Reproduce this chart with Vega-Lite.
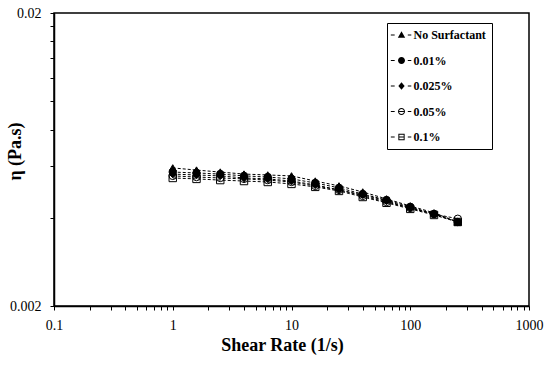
{
  "$schema": "https://vega.github.io/schema/vega-lite/v6.json",
  "width": 475,
  "height": 293,
  "autosize": {"type": "none"},
  "padding": {"left": 54, "top": 13, "right": 21, "bottom": 59},
  "background": "white",
  "config": {
    "font": "Liberation Serif",
    "view": {"stroke": "black", "strokeWidth": 1.5},
    "axis": {
      "grid": false,
      "domainColor": "black",
      "domainWidth": 1.5,
      "tickColor": "black",
      "tickWidth": 1,
      "tickSize": 4,
      "labelFont": "Liberation Serif",
      "labelFontSize": 14,
      "labelColor": "black",
      "labelOverlap": false,
      "labelFlush": false,
      "titleFont": "Liberation Serif",
      "titleFontSize": 18,
      "titleFontWeight": "bold",
      "titleColor": "black"
    }
  },
  "data": {
    "values": [
      {"rate": 1, "eta": 0.00592, "series": "No Surfactant"},
      {"rate": 1.585, "eta": 0.00582, "series": "No Surfactant"},
      {"rate": 2.512, "eta": 0.00573, "series": "No Surfactant"},
      {"rate": 3.981, "eta": 0.00564, "series": "No Surfactant"},
      {"rate": 6.31, "eta": 0.0056, "series": "No Surfactant"},
      {"rate": 10, "eta": 0.00556, "series": "No Surfactant"},
      {"rate": 15.85, "eta": 0.00534, "series": "No Surfactant"},
      {"rate": 25.12, "eta": 0.00514, "series": "No Surfactant"},
      {"rate": 39.81, "eta": 0.0049, "series": "No Surfactant"},
      {"rate": 63.1, "eta": 0.00464, "series": "No Surfactant"},
      {"rate": 100, "eta": 0.00439, "series": "No Surfactant"},
      {"rate": 158.5, "eta": 0.00416, "series": "No Surfactant"},
      {"rate": 251.2, "eta": 0.00387, "series": "No Surfactant"},
      {"rate": 1, "eta": 0.00573, "series": "0.01%"},
      {"rate": 1.585, "eta": 0.00569, "series": "0.01%"},
      {"rate": 2.512, "eta": 0.00564, "series": "0.01%"},
      {"rate": 3.981, "eta": 0.00556, "series": "0.01%"},
      {"rate": 6.31, "eta": 0.00551, "series": "0.01%"},
      {"rate": 10, "eta": 0.00543, "series": "0.01%"},
      {"rate": 15.85, "eta": 0.00526, "series": "0.01%"},
      {"rate": 25.12, "eta": 0.00506, "series": "0.01%"},
      {"rate": 39.81, "eta": 0.00482, "series": "0.01%"},
      {"rate": 63.1, "eta": 0.0046, "series": "0.01%"},
      {"rate": 100, "eta": 0.00436, "series": "0.01%"},
      {"rate": 158.5, "eta": 0.00412, "series": "0.01%"},
      {"rate": 251.2, "eta": 0.00387, "series": "0.01%"},
      {"rate": 1, "eta": 0.00564, "series": "0.025%"},
      {"rate": 1.585, "eta": 0.0056, "series": "0.025%"},
      {"rate": 2.512, "eta": 0.00556, "series": "0.025%"},
      {"rate": 3.981, "eta": 0.00547, "series": "0.025%"},
      {"rate": 6.31, "eta": 0.00543, "series": "0.025%"},
      {"rate": 10, "eta": 0.00534, "series": "0.025%"},
      {"rate": 15.85, "eta": 0.00518, "series": "0.025%"},
      {"rate": 25.12, "eta": 0.00498, "series": "0.025%"},
      {"rate": 39.81, "eta": 0.00479, "series": "0.025%"},
      {"rate": 63.1, "eta": 0.00457, "series": "0.025%"},
      {"rate": 100, "eta": 0.00432, "series": "0.025%"},
      {"rate": 158.5, "eta": 0.00412, "series": "0.025%"},
      {"rate": 251.2, "eta": 0.00387, "series": "0.025%"},
      {"rate": 1, "eta": 0.00556, "series": "0.05%"},
      {"rate": 1.585, "eta": 0.00551, "series": "0.05%"},
      {"rate": 2.512, "eta": 0.00547, "series": "0.05%"},
      {"rate": 3.981, "eta": 0.00543, "series": "0.05%"},
      {"rate": 6.31, "eta": 0.00538, "series": "0.05%"},
      {"rate": 10, "eta": 0.0053, "series": "0.05%"},
      {"rate": 15.85, "eta": 0.00514, "series": "0.05%"},
      {"rate": 25.12, "eta": 0.00498, "series": "0.05%"},
      {"rate": 39.81, "eta": 0.00475, "series": "0.05%"},
      {"rate": 63.1, "eta": 0.00453, "series": "0.05%"},
      {"rate": 100, "eta": 0.00432, "series": "0.05%"},
      {"rate": 158.5, "eta": 0.00412, "series": "0.05%"},
      {"rate": 251.2, "eta": 0.00397, "series": "0.05%"},
      {"rate": 1, "eta": 0.00547, "series": "0.1%"},
      {"rate": 1.585, "eta": 0.00543, "series": "0.1%"},
      {"rate": 2.512, "eta": 0.00538, "series": "0.1%"},
      {"rate": 3.981, "eta": 0.00534, "series": "0.1%"},
      {"rate": 6.31, "eta": 0.0053, "series": "0.1%"},
      {"rate": 10, "eta": 0.00522, "series": "0.1%"},
      {"rate": 15.85, "eta": 0.0051, "series": "0.1%"},
      {"rate": 25.12, "eta": 0.00494, "series": "0.1%"},
      {"rate": 39.81, "eta": 0.00471, "series": "0.1%"},
      {"rate": 63.1, "eta": 0.0045, "series": "0.1%"},
      {"rate": 100, "eta": 0.00429, "series": "0.1%"},
      {"rate": 158.5, "eta": 0.00409, "series": "0.1%"},
      {"rate": 251.2, "eta": 0.00387, "series": "0.1%"}
    ]
  },
  "encoding": {
    "x": {
      "field": "rate",
      "type": "quantitative",
      "scale": {"type": "log", "domain": [0.1, 1000], "nice": false},
      "axis": {
        "title": "Shear Rate (1/s)",
        "values": [0.1, 0.2, 0.3, 0.4, 0.5, 0.6, 0.7, 0.8, 0.9, 1, 2, 3, 4, 5, 6, 7, 8, 9, 10, 20, 30, 40, 50, 60, 70, 80, 90, 100, 200, 300, 400, 500, 600, 700, 800, 900, 1000],
        "format": "~g",
        "labelExpr": "indexof(['0.1','1','10','100','1000'], datum.label) >= 0 ? datum.label : ''",
        "labelPadding": 8,
        "titleX": 228,
        "titleY": 39,
        "titleAlign": "center",
        "titleBaseline": "middle"
      }
    },
    "y": {
      "field": "eta",
      "type": "quantitative",
      "scale": {"type": "log", "domain": [0.002, 0.02], "nice": false},
      "axis": {
        "title": "η (Pa.s)",
        "values": [0.002, 0.004, 0.006, 0.008, 0.01, 0.012, 0.014, 0.016, 0.018, 0.02],
        "format": "~g",
        "labelExpr": "datum.label == '0.002' || datum.label == '0.02' ? datum.label : ''",
        "labelPadding": 9,
        "titleX": -39,
        "titleY": 138,
        "titleAngle": 270,
        "titleAlign": "center",
        "titleBaseline": "middle"
      }
    }
  },
  "layer": [
    {
      "mark": {"type": "line", "color": "black", "strokeWidth": 1, "strokeDash": [3, 2]},
      "encoding": {"detail": {"field": "series"}}
    },
    {
      "mark": {"type": "point", "filled": true, "stroke": "black", "strokeWidth": 1, "opacity": 1, "size": 55},
      "encoding": {
        "shape": {
          "field": "series",
          "scale": {
            "domain": ["No Surfactant", "0.01%", "0.025%", "0.05%", "0.1%"],
            "range": ["triangle-up", "circle", "diamond", "circle", "square"]
          },
          "legend": null
        },
        "fill": {
          "field": "series",
          "scale": {
            "domain": ["No Surfactant", "0.01%", "0.025%", "0.05%", "0.1%"],
            "range": ["black", "black", "black", "transparent", "transparent"]
          },
          "legend": null
        }
      }
    },
    {
      "transform": [{"filter": "datum.rate < 0"}],
      "mark": {"type": "point", "filled": true, "color": "black", "opacity": 1, "size": 49},
      "encoding": {
        "shape": {
          "field": "series",
          "scale": {
            "domain": ["No Surfactant", "0.01%", "0.025%", "0.05%", "0.1%"],
            "range": [
              "M-3.05,-0.15H-1.95V0.15H-3.05Z M1.8,-0.15H2.8V0.15H1.8Z M0,-1.1L1.05,0.75L-1.05,0.75Z",
              "M-3.05,-0.15H-1.95V0.15H-3.05Z M1.8,-0.15H2.8V0.15H1.8Z M-1,0A1,1,0,1,1,1,0A1,1,0,1,1,-1,0Z",
              "M-3.05,-0.15H-1.95V0.15H-3.05Z M1.8,-0.15H2.8V0.15H1.8Z M0,-1.05L0.9,0L0,1.05L-0.9,0Z",
              "M-3.05,-0.15H-1.95V0.15H-3.05Z M1.8,-0.15H2.8V0.15H1.8Z M-1,0A1,1,0,1,1,1,0A1,1,0,1,1,-1,0Z M-0.72,0A0.72,0.72,0,1,0,0.72,0A0.72,0.72,0,1,0,-0.72,0Z M-0.7,-0.14H0.7V0.14H-0.7Z",
              "M-3.05,-0.15H-1.95V0.15H-3.05Z M1.8,-0.15H2.8V0.15H1.8Z M-0.9,-0.9H0.9V0.9H-0.9Z M-0.62,-0.62V0.62H0.62V-0.62Z M-0.62,-0.14H0.62V0.14H-0.62Z"
            ]
          },
          "legend": {
            "title": null,
            "orient": "none",
            "legendX": 333,
            "legendY": 10,
            "padding": 6,
            "strokeColor": "black",
            "fillColor": "white",
            "cornerRadius": 0,
            "symbolSize": 49,
            "symbolFillColor": "black",
            "symbolStrokeColor": "black",
            "symbolStrokeWidth": 0,
            "symbolOffset": 2.5,
            "labelOffset": 6,
            "labelFont": "Liberation Serif",
            "labelFontSize": 12,
            "labelFontWeight": "bold",
            "labelColor": "black",
            "labelLimit": 200,
            "rowPadding": 13.5,
            "encode": {"legend": {"update": {"strokeWidth": {"value": 1.5}}}}
          }
        }
      }
    }
  ],
  "resolve": {"scale": {"shape": "independent", "fill": "independent"}}
}
